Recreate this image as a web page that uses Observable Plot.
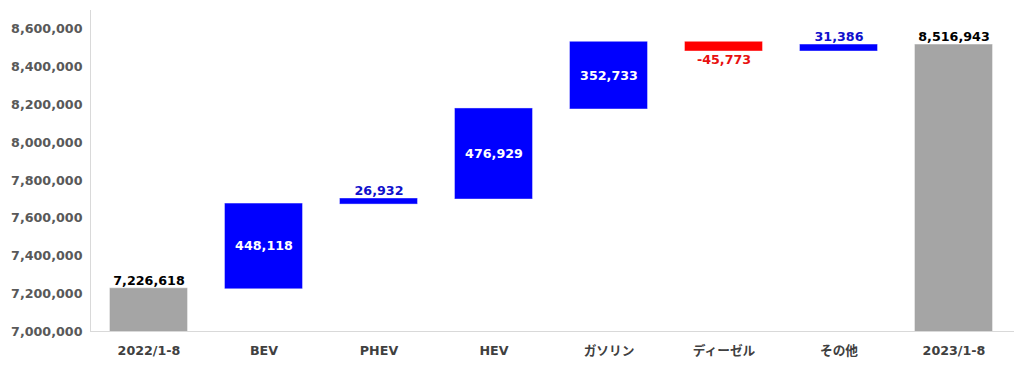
<!DOCTYPE html>
<html><head><meta charset="utf-8">
<script src="https://cdn.jsdelivr.net/npm/d3@7"></script>
<script src="https://cdn.jsdelivr.net/npm/@observablehq/plot@0.6"></script>
<style>body{margin:0;background:#fff}</style>
</head><body><div id="chart"></div>
<script>
const categories = ["2022/1-8","BEV","PHEV","HEV","ガソリン","ディーゼル","その他","2023/1-8"];
const kinds = ["total","delta","delta","delta","delta","delta","delta","total"];
const values = [7226618,448118,26932,476929,352733,-45773,31386,8516943];
const yTicks = [7000000,7200000,7400000,7600000,7800000,8000000,8200000,8400000,8600000];
const yDomain = [7000000, 8700000];

const fmt = d3.formatLocale({thousands: ",", grouping: [3], currency: ["", ""], minus: "-"}).format(",");
let run = 0;
const rows = categories.map((c, i) => {
  let y1, y2;
  if (kinds[i] === "total") { y1 = yDomain[0]; y2 = values[i]; run = values[i]; }
  else { y1 = run; y2 = run + values[i]; run = y2; }
  const small = Math.abs(values[i]) < 100000;
  const fill = kinds[i] === "total" ? "#a5a5a5" : (values[i] < 0 ? "#ff0000" : "#0000ff");
  const label = fmt(values[i]);
  let place, color;
  if (kinds[i] === "total") { place = "above"; color = "#000000"; }
  else if (!small) { place = "inside"; color = "#ffffff"; }
  else if (values[i] < 0) { place = "below"; color = "#e81010"; }
  else { place = "above"; color = "#1010cc"; }
  return {cat: c, y1, y2, top: Math.max(y1, y2), bottom: Math.min(y1, y2), mid: (y1 + y2) / 2, fill, label, place, color};
});

const chart = Plot.plot({
  width: 1024, height: 370,
  marginLeft: 90, marginRight: 11, marginTop: 10, marginBottom: 39,
  style: {fontFamily: "'DejaVu Sans', 'Noto Sans CJK JP', sans-serif", fontSize: "12.7px", fontWeight: "bold", background: "#fff"},
  x: {domain: categories, paddingInner: 0.33, paddingOuter: 0.165, label: null},
  y: {domain: yDomain, label: null},
  marks: [
    Plot.barY(rows, {x: "cat", y1: "y1", y2: "y2", fill: "fill", stroke: "fill", strokeOpacity: 0.6, clip: true}),
    Plot.frame({anchor: "left", stroke: "#d9d9d9"}),
    Plot.frame({anchor: "bottom", stroke: "#d9d9d9"}),
    Plot.axisY({ticks: yTicks, tickFormat: fmt, tickSize: 0, tickPadding: 8, color: "#595959", label: null}),
    Plot.axisX({tickSize: 0, tickPadding: 14, color: "#404040", label: null}),
    Plot.text(rows.filter(d => d.place === "above"), {x: "cat", y: "top", text: "label", fill: "color", lineAnchor: "bottom", dy: -4}),
    Plot.text(rows.filter(d => d.place === "below"), {x: "cat", y: "bottom", text: "label", fill: "color", lineAnchor: "top", dy: 4}),
    Plot.text(rows.filter(d => d.place === "inside"), {x: "cat", y: "mid", text: "label", fill: "color"})
  ]
});
document.getElementById("chart").appendChild(chart);
</script>
</body></html>
